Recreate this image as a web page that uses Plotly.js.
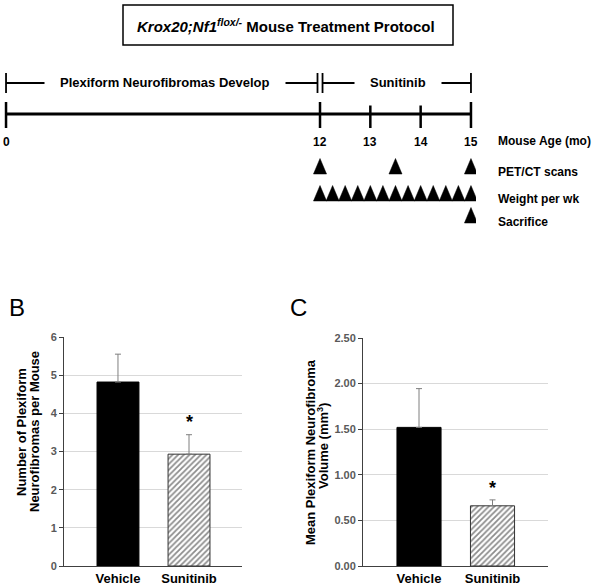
<!DOCTYPE html>
<html>
<head>
<meta charset="utf-8">
<script src="https://cdn.plot.ly/plotly-3.0.1.min.js"></script>
<style>html,body{margin:0;padding:0;background:#fff;}#chart{width:600px;height:587px;}</style>
</head>
<body>
<div id="chart"></div>
<script>
// ---------- DATA ----------
// Timeline (months of mouse age)
const ageTicks = [0, 12, 13, 14, 15];
const phaseLabels = ['Plexiform Neurofibromas Develop', 'Sunitinib'];
const phaseStart = [0, 12];
const phaseEnd = [12, 15];
const rowLabels = ['Mouse Age (mo)', 'PET/CT scans', 'Weight per wk', 'Sacrifice'];
const petScanMonths = [12, 13.5, 15];
const weightMonths = [12, 12.25, 12.5, 12.75, 13, 13.25, 13.5, 13.75, 14, 14.25, 14.5, 14.75, 15];
const sacrificeMonths = [15];

// Bar charts
const groups = ['Vehicle', 'Sunitinib'];
const countMean = [4.82, 2.93];
const countErr = [0.73, 0.51];
const volumeMean = [1.52, 0.66];
const volumeErr = [0.425, 0.065];
const countTicks = [0, 1, 2, 3, 4, 5, 6];
const volumeTicks = [0, 0.5, 1.0, 1.5, 2.0, 2.5];

// ---------- STYLE / LAYOUT HELPERS ----------
const FONT = 'Liberation Sans, Arial, sans-serif';
const W = 600, H = 587;
const px = v => v / W;            // paper x from pixel
const py = v => 1 - v / H;        // paper y from pixel

// broken time scale: pre-treatment months compressed
const K = 0.52;
const tl = m => (m <= 12 ? K * m : 12 * K + (m - 12));

// timeline row positions (y3 axis runs in page pixels, top->down)
const Y = {bracket: 83, bracketTop: 73, bracketBot: 93, main: 114, tickTop: 102, tickBot: 128,
           ageLabel: 142, pet: 167, weight: 194, sacrifice: 216};
const triHalfW = 0.13, triUp = 8.5, triDown = 7;
const dbl = 0.05;

function triangles(months, yc) {
  const x = [], y = [];
  months.forEach(m => {
    const c = tl(m);
    x.push(c - triHalfW, c + triHalfW, c, c - triHalfW, null);
    y.push(yc + triDown, yc + triDown, yc - triUp, yc + triDown, null);
  });
  return {x, y, type: 'scatter', mode: 'lines', fill: 'toself', fillcolor: '#000',
          line: {color: '#000', width: 0.5}, xaxis: 'x3', yaxis: 'y3', hoverinfo: 'skip', showlegend: false};
}

const traces = [];

// main age line
traces.push({x: [tl(ageTicks[0]), tl(ageTicks[ageTicks.length - 1])], y: [Y.main, Y.main],
  type: 'scatter', mode: 'lines', line: {color: '#000', width: 3}, xaxis: 'x3', yaxis: 'y3', showlegend: false, hoverinfo: 'skip'});
// main ticks
(function () {
  const x = [], y = [];
  ageTicks.forEach(a => { x.push(tl(a), tl(a), null); y.push(Y.tickTop, Y.tickBot, null); });
  traces.push({x, y, type: 'scatter', mode: 'lines', line: {color: '#000', width: 2.5}, xaxis: 'x3', yaxis: 'y3', showlegend: false, hoverinfo: 'skip'});
})();
// phase brackets
(function () {
  const x = [], y = [];
  phaseStart.forEach((s, i) => {
    const a = tl(s) + (i > 0 ? dbl : 0);
    const b = tl(phaseEnd[i]) - (i < phaseStart.length - 1 ? dbl : 0);
    x.push(a, b, null, a, a, null, b, b, null);
    y.push(Y.bracket, Y.bracket, null, Y.bracketTop, Y.bracketBot, null, Y.bracketTop, Y.bracketBot, null);
  });
  traces.push({x, y, type: 'scatter', mode: 'lines', line: {color: '#000', width: 1.8}, xaxis: 'x3', yaxis: 'y3', showlegend: false, hoverinfo: 'skip'});
})();
traces.push(triangles(petScanMonths, Y.pet));
traces.push(triangles(weightMonths, Y.weight));
traces.push(triangles(sacrificeMonths, Y.sacrifice));

// bar charts: one trace per group so each bar gets its own fill
const errStyle = {color: '#7f7f7f', thickness: 1, width: 3};
const solidMarker = {color: '#000000', line: {color: '#000000', width: 1}};
const hatchMarker = {color: '#ffffff', line: {color: '#333333', width: 1},
  pattern: {shape: '/', fgcolor: '#1a1a1a', bgcolor: '#ffffff', size: 4, solidity: 0.45, fillmode: 'overlay'}};
function barTrace(i, means, errs, w, xa, ya) {
  return {type: 'bar', x: [groups[i]], y: [means[i]], width: w, marker: i === 0 ? solidMarker : hatchMarker,
    error_y: Object.assign({type: 'data', symmetric: false, array: [errs[i]], arrayminus: [0]}, errStyle),
    xaxis: xa, yaxis: ya, showlegend: false, hoverinfo: 'skip'};
}
[0, 1].forEach(i => traces.push(barTrace(i, countMean, countErr, 0.59, 'x', 'y')));
[0, 1].forEach(i => traces.push(barTrace(i, volumeMean, volumeErr, 0.6, 'x2', 'y2')));

// ---------- ANNOTATIONS ----------
const ann = [];
const boldFont = (s, c) => ({family: FONT, size: s, color: c || '#000', weight: 'bold'});

ann.push({xref: 'paper', yref: 'paper', x: px(286), y: py(25), xanchor: 'center', yanchor: 'middle', showarrow: false,
  text: '<b><i>Krox20;Nf1<sup>flox/-</sup></i> Mouse Treatment Protocol</b>', font: boldFont(15)});

phaseLabels.forEach((lab, i) => {
  ann.push({xref: 'x3', yref: 'y3', x: (tl(phaseStart[i]) + tl(phaseEnd[i])) / 2 + 0.04, y: Y.bracket, showarrow: false,
    text: '<b>' + lab + '</b>', font: boldFont(13), bgcolor: '#ffffff', borderpad: 15, xanchor: 'center', yanchor: 'middle'});
});
ageTicks.forEach(a => {
  ann.push({xref: 'x3', yref: 'y3', x: tl(a), y: Y.ageLabel, showarrow: false, text: '<b>' + a + '</b>',
    font: boldFont(12), xanchor: 'center', yanchor: 'middle'});
});
[Y.ageLabel - 1, Y.pet + 5, Y.weight + 5, Y.sacrifice + 6].forEach((yy, i) => {
  ann.push({xref: 'paper', yref: 'y3', x: px(496), y: yy, showarrow: false, text: '<b>' + rowLabels[i] + '</b>',
    font: boldFont(12), xanchor: 'left', yanchor: 'middle'});
});

// panel letters
ann.push({xref: 'paper', yref: 'paper', x: px(17), y: py(307), text: 'B', showarrow: false,
  font: {family: FONT, size: 24, color: '#000'}, xanchor: 'center', yanchor: 'middle'});
ann.push({xref: 'paper', yref: 'paper', x: px(298), y: py(307), text: 'C', showarrow: false,
  font: {family: FONT, size: 24, color: '#000'}, xanchor: 'center', yanchor: 'middle'});

// y-axis titles (two tight lines each)
[['Number of Plexiform', 21, 432], ['Neurofibromas per Mouse', 34, 432],
 ['Mean Plexiform Neurofibroma', 310, 452], ['Volume (mm<sup>3</sup>)', 323, 446]].forEach(t => {
  ann.push({xref: 'paper', yref: 'paper', x: px(t[1]), y: py(t[2]), text: '<b>' + t[0] + '</b>', textangle: -90,
    showarrow: false, font: boldFont(13), xanchor: 'center', yanchor: 'middle'});
});

// significance stars
ann.push({xref: 'x', yref: 'y', x: groups[1], y: countMean[1] + countErr[1], yshift: 13, text: '<b>*</b>',
  showarrow: false, font: boldFont(18), xanchor: 'center', yanchor: 'middle'});
ann.push({xref: 'x2', yref: 'y2', x: groups[1], y: volumeMean[1] + volumeErr[1], yshift: 12, text: '<b>*</b>',
  showarrow: false, font: boldFont(18), xanchor: 'center', yanchor: 'middle'});

// ---------- AXES ----------
const yAxisCommon = {showline: true, linecolor: '#404040', linewidth: 1, ticks: 'outside', ticklen: 4, tickcolor: '#404040',
  showgrid: true, gridcolor: '#d9d9d9', gridwidth: 1, zeroline: false, fixedrange: true,
  tickfont: {family: FONT, size: 11, color: '#595959', weight: 'bold'}};
const xAxisCommon = {type: 'category', categoryarray: groups, categoryorder: 'array', showline: true, linecolor: '#404040',
  linewidth: 1, ticks: '', showgrid: false, zeroline: false, fixedrange: true,
  tickfont: {family: FONT, size: 13, color: '#000', weight: 'bold'}};

const layout = {
  width: W, height: H,
  margin: {l: 0, r: 0, t: 0, b: 0},
  paper_bgcolor: '#ffffff', plot_bgcolor: 'rgba(0,0,0,0)',
  showlegend: false,
  barmode: 'overlay',
  font: {family: FONT},
  xaxis: Object.assign({}, xAxisCommon, {domain: [px(64), px(242)], range: [-0.76, 1.746], anchor: 'y'}),
  yaxis: Object.assign({}, yAxisCommon, {domain: [py(566), py(337)], range: [0, 6], tickvals: countTicks,
    ticktext: countTicks.map(String), anchor: 'x'}),
  xaxis2: Object.assign({}, xAxisCommon, {domain: [px(363), px(548)], range: [-0.762, 1.755], anchor: 'y2'}),
  yaxis2: Object.assign({}, yAxisCommon, {domain: [py(566), py(338)], range: [0, 2.5], tickvals: volumeTicks,
    ticktext: volumeTicks.map(v => v.toFixed(2)), anchor: 'x2'}),
  xaxis3: {domain: [px(1), px(476)], range: [-0.1, 9.34], visible: false, fixedrange: true, anchor: 'y3'},
  yaxis3: {domain: [py(240), py(50)], range: [240, 50], visible: false, fixedrange: true, anchor: 'x3'},
  shapes: [{type: 'rect', xref: 'paper', yref: 'paper', x0: px(123), x1: px(453), y0: py(45), y1: py(5),
    line: {color: '#000', width: 1.5}, fillcolor: 'rgba(0,0,0,0)'}],
  annotations: ann
};

Plotly.newPlot('chart', traces, layout, {staticPlot: true, displayModeBar: false});
</script>
</body>
</html>
